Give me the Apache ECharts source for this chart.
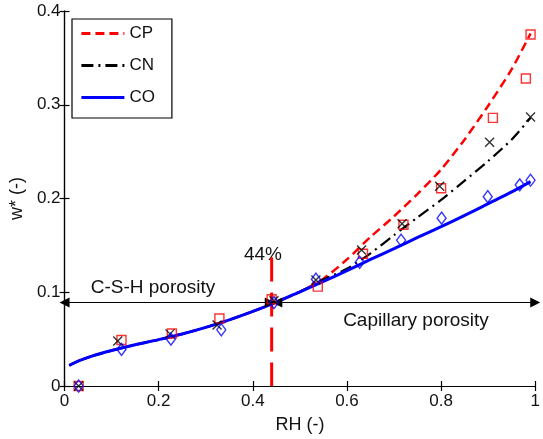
<!DOCTYPE html>
<html>
<head>
<meta charset="utf-8">
<script src="https://cdn.jsdelivr.net/npm/echarts@6/dist/echarts.min.js"></script>
<style>
  html, body { margin: 0; padding: 0; background: #fff; }
  #chart { width: 543px; height: 439px; }
</style>
</head>
<body>
<div id="chart"></div>
<script>
// fitted curves (RH grid and w* values)
const rhCurve = [0.01, 0.03, 0.06, 0.10, 0.15, 0.20, 0.25, 0.30, 0.35, 0.40, 0.45, 0.50,
                 0.55, 0.60, 0.65, 0.70, 0.75, 0.80, 0.85, 0.90, 0.95, 0.99];
const cpCurve = [0.022, 0.0268, 0.0322, 0.0378, 0.0440, 0.0495, 0.0555, 0.0625, 0.0705, 0.0795, 0.0895, 0.1005,
                 0.1145, 0.135, 0.159, 0.181, 0.205, 0.231, 0.263, 0.299, 0.338, 0.376];
const cnCurve = [0.022, 0.0268, 0.0322, 0.0378, 0.0440, 0.0495, 0.0555, 0.0625, 0.0705, 0.0795, 0.0895, 0.1005,
                 0.1135, 0.125, 0.1415, 0.161, 0.180, 0.1985, 0.219, 0.240, 0.263, 0.286];
const coCurve = [0.022, 0.0268, 0.0322, 0.0378, 0.0440, 0.0495, 0.0555, 0.0625, 0.0705, 0.0795, 0.0895, 0.1005,
                 0.1115, 0.123, 0.135, 0.1465, 0.1585, 0.170, 0.182, 0.1945, 0.207, 0.218];

// measured points
const cpRH = [0.03, 0.121, 0.228, 0.329, 0.44, 0.538, 0.634, 0.72, 0.80, 0.91, 0.98, 0.99];
const cpW  = [0, 0.049, 0.056, 0.072, 0.0925, 0.106, 0.141, 0.172, 0.211, 0.286, 0.328, 0.375];
const cnRH = [0.03, 0.113, 0.224, 0.324, 0.445, 0.534, 0.631, 0.717, 0.797, 0.903, 0.99];
const cnW  = [0, 0.048, 0.0556, 0.065, 0.091, 0.113, 0.145, 0.173, 0.213, 0.26, 0.287];
const coRH = [0.03, 0.121, 0.226, 0.333, 0.445, 0.534, 0.627, 0.715, 0.801, 0.899, 0.967, 0.99];
const coW  = [0, 0.039, 0.050, 0.060, 0.089, 0.114, 0.132, 0.1555, 0.179, 0.202, 0.2146, 0.2195];

const xTicks = [0, 0.2, 0.4, 0.6, 0.8, 1];
const yTicks = [0, 0.1, 0.2, 0.3, 0.4];

const threshold = 0.44;   // 44% RH
const arrowY = 0.089;
const thresholdTop = 0.137;

const zip = (a, b) => a.map((v, i) => [v, b[i]]);

const font = 'Liberation Sans, Arial, sans-serif';
const chart = echarts.init(document.getElementById('chart'));

const baseAxis = {
    type: 'value',
    axisLine: { lineStyle: { color: '#000', width: 1.2 } },
    axisTick: { inside: true, length: 5, lineStyle: { color: '#000', width: 1.2 } },
    splitLine: { show: false }
};

let option = {
    animation: false,
    backgroundColor: '#fff',
    grid: { left: 61, right: 2, top: 11, bottom: 49 },
    legend: {
        data: ['CP', 'CN', 'CO'],
        orient: 'vertical',
        left: 72,
        top: 19,
        itemWidth: 43,
        itemHeight: 10,
        itemGap: 15,
        padding: [6, 17, 12, 8],
        borderColor: '#000',
        borderWidth: 1.2,
        backgroundColor: '#fff',
        itemStyle: { opacity: 0 },
        lineStyle: { width: 2.8 },
        textStyle: { fontFamily: font, fontSize: 17, color: '#111' }
    },
    xAxis: [
        Object.assign({}, baseAxis, {
            min: 0, max: 1, interval: 0.2, position: 'bottom',
            axisLabel: { fontFamily: font, fontSize: 17, color: '#111', margin: 7,
                         formatter: v => xTicks.includes(+v.toFixed(2)) ? String(+v.toFixed(2)) : '' },
            name: 'RH (-)', nameLocation: 'middle', nameGap: 30,
            nameTextStyle: { fontFamily: font, fontSize: 18, color: '#111' }
        }),
        Object.assign({}, baseAxis, {
            min: 0, max: 1, interval: 0.2, position: 'top', axisLabel: { show: false }
        })
    ],
    yAxis: [
        Object.assign({}, baseAxis, {
            min: 0, max: 0.4, interval: 0.1, position: 'left',
            axisLabel: { fontFamily: font, fontSize: 17, color: '#111', margin: 4,
                         formatter: v => yTicks.includes(+v.toFixed(2)) ? String(+v.toFixed(2)) : '' },
            name: 'w* (-)', nameLocation: 'middle', nameGap: 36,
            nameTextStyle: { fontFamily: font, fontSize: 18, color: '#111' }
        }),
        Object.assign({}, baseAxis, {
            min: 0, max: 0.4, interval: 0.1, position: 'right', axisLabel: { show: false }
        })
    ],
    series: [
        {
            name: 'CP', type: 'line', data: zip(rhCurve, cpCurve),
            smooth: 0.25, symbol: 'none', z: 3,
            lineStyle: { color: '#ff0000', width: 2.5, type: [9, 5] },
            itemStyle: { color: '#ff0000' }
        },
        {
            name: 'CN', type: 'line', data: zip(rhCurve, cnCurve),
            smooth: 0.25, symbol: 'none', z: 3,
            lineStyle: { color: '#000', width: 2.2, type: [12, 5, 2, 5] },
            itemStyle: { color: '#000' }
        },
        {
            name: 'CO', type: 'line', data: zip(rhCurve, coCurve),
            smooth: 0.25, symbol: 'none', z: 4,
            lineStyle: { color: '#0000ff', width: 3 },
            itemStyle: { color: '#0000ff' }
        },
        {
            name: 'CP data', type: 'scatter', data: zip(cpRH, cpW),
            symbol: 'rect', symbolSize: 9, z: 5,
            itemStyle: { color: 'transparent', borderColor: '#ff0000', borderWidth: 1.4 }
        },
        {
            name: 'CN data', type: 'scatter', data: zip(cnRH, cnW),
            symbol: 'path://M0 0L10 10M10 0L0 10', symbolSize: 9, z: 5,
            itemStyle: { color: 'transparent', borderColor: '#000', borderWidth: 1.4 }
        },
        {
            name: 'CO data', type: 'scatter', data: zip(coRH, coW),
            symbol: 'diamond', symbolSize: [9, 12], z: 5,
            itemStyle: { color: 'transparent', borderColor: '#0000ff', borderWidth: 1.4 }
        },
        {
            // 44% threshold line and porosity arrows
            name: 'threshold', type: 'line', data: [[threshold, thresholdTop], [threshold, 0]],
            symbol: 'none', z: 2, silent: true,
            lineStyle: { color: '#ff0000', width: 3, type: [24, 11] },
            markLine: {
                silent: true,
                symbol: ['triangle', 'triangle'],
                symbolSize: 10,
                label: { show: false },
                lineStyle: { color: '#000', width: 1, type: 'solid' },
                data: [
                    [{ coord: [0, arrowY] }, { coord: [0.436, arrowY] }],
                    [{ coord: [0.452, arrowY] }, { coord: [1, arrowY] }]
                ]
            }
        }
    ],
    graphic: [
        { type: 'text', x: 263, y: 255,
          style: { text: '44%', font: '19px ' + font, fill: '#111', align: 'center', verticalAlign: 'middle' } },
        { type: 'text', x: 153, y: 288,
          style: { text: 'C-S-H porosity', font: '19px ' + font, fill: '#111', align: 'center', verticalAlign: 'middle' } },
        { type: 'text', x: 416, y: 321,
          style: { text: 'Capillary porosity', font: '19px ' + font, fill: '#111', align: 'center', verticalAlign: 'middle' } }
    ]
};

chart.setOption(option);
</script>
</body>
</html>
